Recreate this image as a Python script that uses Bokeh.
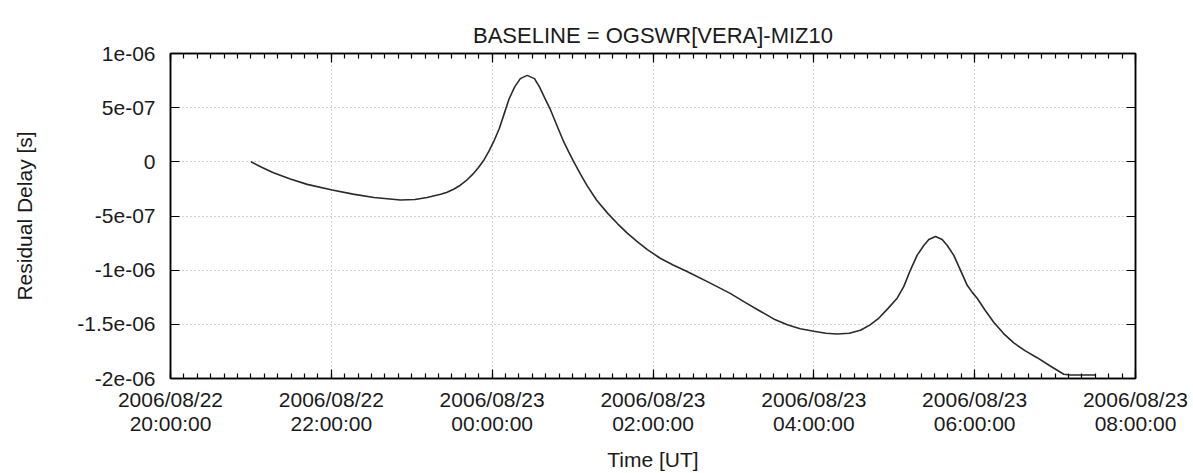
import pandas as pd
from bokeh.plotting import figure
from bokeh.models import (ColumnDataSource, FixedTicker, DatetimeTickFormatter,
                          CustomJSTickFormatter, DatetimeAxis, LinearAxis)
from bokeh.embed import file_html
from bokeh.resources import INLINE

# ---- data ----
start = "2006-08-22 20:00:00"
hours = [1.00, 1.14, 1.28, 1.49, 1.70, 2.01, 2.27, 2.53, 2.86, 3.04, 3.19, 3.36,
         3.44, 3.52, 3.60, 3.68, 3.76, 3.83, 3.90, 3.96, 4.02, 4.09, 4.15, 4.21, 4.28,
         4.35, 4.435, 4.526, 4.588, 4.65, 4.717, 4.80, 4.888, 4.95, 5.015, 5.10, 5.18,
         5.30, 5.44, 5.56, 5.68, 5.80, 5.93, 6.09, 6.25, 6.43, 6.70, 6.96, 7.15,
         7.34, 7.50, 7.67, 7.83, 8.00, 8.15, 8.29, 8.44, 8.58, 8.70, 8.81, 8.92,
         9.036, 9.118, 9.201, 9.284, 9.367, 9.43, 9.513, 9.596, 9.66, 9.74, 9.823, 9.907,
         9.97, 10.031, 10.13, 10.237, 10.36, 10.486, 10.63, 10.777, 10.94, 11.108, 11.19, 11.502]
delay_e7 = [0.00, -0.52, -1.01, -1.58, -2.08, -2.60, -2.98, -3.29, -3.52, -3.47, -3.29, -3.00,
            -2.80, -2.53, -2.18, -1.72, -1.14, -0.52, 0.20, 0.98, 1.88, 3.10, 4.45, 5.80, 6.92,
            7.68, 7.98, 7.68, 6.92, 5.95, 4.94, 3.45, 1.88, 0.95, 0.00, -1.15, -2.20,
            -3.55, -4.78, -5.72, -6.58, -7.35, -8.10, -8.90, -9.52, -10.15, -11.15, -12.14, -13.00,
            -13.81, -14.50, -15.04, -15.40, -15.64, -15.82, -15.89, -15.82, -15.55, -15.05, -14.42, -13.55,
            -12.59, -11.52, -9.99, -8.63, -7.72, -7.17, -6.90, -7.17, -7.72, -8.63, -9.99, -11.40,
            -12.05, -12.59, -13.70, -14.80, -15.85, -16.71, -17.45, -18.08, -18.85, -19.61, -19.67, -19.67]
x_tick_hours = [0, 2, 4, 6, 8, 10, 12]
y_ticks = [-2e-06, -1.5e-06, -1e-06, -5e-07, 0.0, 5e-07, 1e-06]

t0 = pd.Timestamp(start)
times = [t0 + pd.Timedelta(hours=h) for h in hours]
delay = [v * 1e-7 for v in delay_e7]
major_ms = [(t0 + pd.Timedelta(hours=h)).value / 1e6 for h in x_tick_hours]
minor_ms = [(t0 + pd.Timedelta(minutes=m)).value / 1e6 for m in range(0, 12 * 60 + 1, 10)]

src = ColumnDataSource(dict(t=times, d=delay))

FONT = "Liberation Sans"
FS = "21px"
TXT = "#1a1a1a"
p = figure(width=1193, height=473, x_axis_type="datetime",
           x_range=(major_ms[0], major_ms[-1]), y_range=(-2e-06, 1e-06),
           output_backend="svg", toolbar_location=None,
           title="BASELINE = OGSWR[VERA]-MIZ10",
           min_border_left=170, min_border_right=58, min_border_top=53, min_border_bottom=92)
p.title.align = "center"
p.title.text_font = FONT
p.title.text_font_size = "22px"
p.title.text_font_style = "normal"
p.title.text_color = TXT
p.title.standoff = 12

p.line("t", "d", source=src, line_color="#2a2a2a", line_width=1.6)

xtick = FixedTicker(ticks=major_ms, minor_ticks=minor_ms)
ytick = FixedTicker(ticks=y_ticks, minor_ticks=[])
fmt = "%Y/%m/%d\n%H:%M:%S"
xfmt = DatetimeTickFormatter(microseconds=fmt, milliseconds=fmt, seconds=fmt, minsec=fmt,
                             minutes=fmt, hourmin=fmt, hours=fmt, days=fmt, months=fmt, years=fmt)
yfmt = CustomJSTickFormatter(code="""
if (tick == 0) return "0";
let s = tick.toExponential();
let parts = s.split("e");
let e = parts[1];
let sign = e[0];
let d = e.slice(1);
if (d.length < 2) d = "0" + d;
return parts[0] + "e" + sign + d;
""")

def style_axis(ax, labels=True):
    ax.axis_line_color = "black"
    ax.axis_line_width = 1.5
    ax.major_tick_line_color = "black"
    ax.minor_tick_line_color = "black"
    ax.major_tick_line_width = 1.2
    ax.minor_tick_line_width = 1.2
    ax.major_tick_in = 9
    ax.major_tick_out = 0
    ax.minor_tick_in = 5
    ax.minor_tick_out = 0
    ax.major_label_text_font = FONT
    ax.major_label_text_font_size = FS
    ax.major_label_text_color = TXT
    ax.major_label_text_line_height = 1.05
    ax.axis_label_text_font = FONT
    ax.axis_label_text_font_size = FS
    ax.axis_label_text_font_style = "normal"
    ax.axis_label_text_color = TXT
    if not labels:
        ax.major_label_text_font_size = "0px"
        ax.major_label_text_alpha = 0

bx = p.xaxis[0]
bx.ticker = xtick
bx.formatter = xfmt
bx.axis_label = "Time [UT]"
style_axis(bx)
bx.major_label_standoff = 9
bx.axis_label_standoff = 10

ly = p.yaxis[0]
ly.ticker = ytick
ly.formatter = yfmt
ly.axis_label = "Residual Delay [s]"
style_axis(ly)
ly.major_label_standoff = 15
ly.axis_label_standoff = 38

tx = DatetimeAxis(ticker=xtick)
style_axis(tx, labels=False)
tx.major_label_standoff = 14
p.add_layout(tx, "above")
ry = LinearAxis(ticker=ytick)
style_axis(ry, labels=False)
ry.major_label_standoff = 0
p.add_layout(ry, "right")

p.xgrid.ticker = xtick
p.ygrid.ticker = ytick
for g in (p.xgrid[0], p.ygrid[0]):
    g.grid_line_color = "#a8a8a8"
    g.grid_line_dash = "1 3"
    g.grid_line_width = 1
p.outline_line_color = "black"
p.outline_line_width = 1.5

open("out.html", "w").write(file_html(p, INLINE))
